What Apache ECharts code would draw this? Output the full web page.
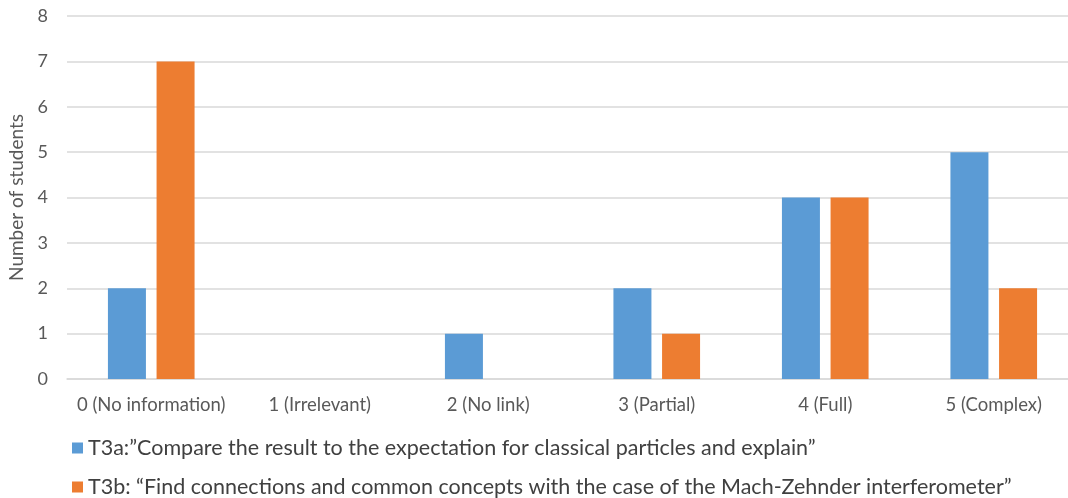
<!DOCTYPE html>
<html>
<head>
<meta charset="utf-8">
<script src="https://cdn.jsdelivr.net/npm/echarts@6/dist/echarts.min.js"></script>
<style>
html,body{margin:0;padding:0;background:#fff;}
#chart{width:1068px;height:498px;}
</style>
</head>
<body>
<div id="chart"></div>
<script>
const categories = ['0 (No information)', '1 (Irrelevant)', '2 (No link)', '3 (Partial)', '4 (Full)', '5 (Complex)'];
const seriesNames = [
  'T3a:\u201dCompare the result to the expectation for classical particles and explain\u201d',
  'T3b: \u201cFind connections and common concepts with the case of the Mach-Zehnder interferometer\u201d'
];
const t3aValues = [2, 0, 1, 2, 4, 5];
const t3bValues = [7, 0, 0, 1, 4, 2];
const yTicks = { min: 0, max: 8, interval: 1 };

const font = 'Lato, "Open Sans", sans-serif';
const textColor = '#595959';

const chart = echarts.init(document.getElementById('chart'), null, { renderer: 'canvas' });
chart.setOption({
  animation: false,
  textStyle: { fontFamily: font },
  // plot area runs slightly past the right edge of the canvas
  grid: { left: 67, right: -10, top: 16, bottom: 119, outerBoundsMode: 'none', containLabel: false },
  legend: {
    orient: 'vertical',
    left: 72,
    top: 437,
    height: 120,
    padding: 0,
    itemGap: 17,
    itemWidth: 11,
    itemHeight: 11,
    icon: 'rect',
    textStyle: { fontFamily: font, fontSize: 21.5, lineHeight: 18, color: '#404040' },
    data: seriesNames
  },
  xAxis: {
    type: 'category',
    data: categories,
    axisLine: { show: true, lineStyle: { color: '#d9d9d9', width: 1.5 } },
    axisTick: { show: false },
    axisLabel: { interval: 0, color: textColor, fontSize: 18.5, lineHeight: 19, margin: 17, fontFamily: font }
  },
  yAxis: {
    type: 'value',
    min: yTicks.min,
    max: yTicks.max,
    interval: yTicks.interval,
    name: 'Number of students',
    nameLocation: 'middle',
    nameRotate: 90,
    nameGap: 38,
    nameTextStyle: { color: textColor, fontSize: 19, fontFamily: font },
    axisLine: { show: false },
    axisTick: { show: false },
    axisLabel: { color: textColor, fontSize: 18, margin: 19, fontFamily: font },
    splitLine: { lineStyle: { color: '#d9d9d9', width: 1.5 } }
  },
  series: [
    {
      name: seriesNames[0],
      type: 'bar',
      data: t3aValues,
      barWidth: 38,
      barGap: '28%',
      itemStyle: { color: '#5b9bd5' }
    },
    {
      name: seriesNames[1],
      type: 'bar',
      data: t3bValues,
      barWidth: 38,
      itemStyle: { color: '#ed7d31' }
    }
  ]
});
</script>
</body>
</html>
